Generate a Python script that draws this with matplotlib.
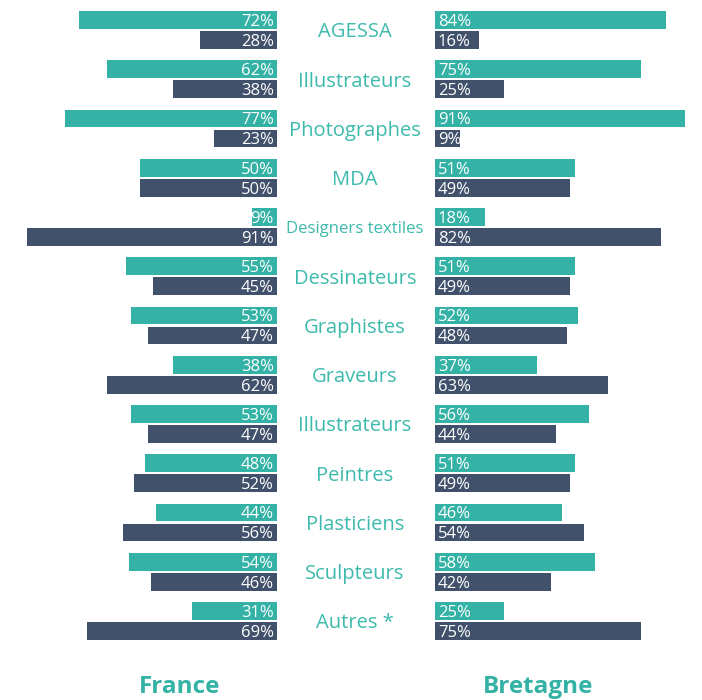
import matplotlib
matplotlib.use("Agg")
import matplotlib.pyplot as plt
from matplotlib.transforms import blended_transform_factory

categories = ["AGESSA", "Illustrateurs", "Photographes", "MDA", "Designers textiles",
              "Dessinateurs", "Graphistes", "Graveurs", "Illustrateurs", "Peintres",
              "Plasticiens", "Sculpteurs", "Autres *"]
france_top = [72, 62, 77, 50, 9, 55, 53, 38, 53, 48, 44, 54, 31]
france_bottom = [28, 38, 23, 50, 91, 45, 47, 62, 47, 52, 56, 46, 69]
bretagne_top = [84, 75, 91, 51, 18, 51, 52, 37, 56, 51, 46, 58, 25]
bretagne_bottom = [16, 25, 9, 49, 82, 49, 48, 63, 44, 49, 54, 42, 75]
panel_titles = ["France", "Bretagne"]

TEAL = "#33b2a5"
DARK = "#41516b"
TXT = "#3dbaac"
plt.rcParams['font.family'] = ['Open Sans', 'DejaVu Sans']

W, H = 702, 700
fig = plt.figure(figsize=(W / 100, H / 100), dpi=100)

px_per_pct = 2.75
row_h = 49.25
first_center = 30.0
ax_top_px, ax_bot_px = 0, 660
ylim_top = -first_center / row_h
ylim_bot = (ax_bot_px - first_center) / row_h

left_right_px = 277
left_left_px = left_right_px - 100 * px_per_pct
right_left_px = 435
right_right_px = W


def fx(px):
    return px / W


def fy(px):
    return 1 - px / H


axL = fig.add_axes([fx(left_left_px), fy(ax_bot_px), fx(left_right_px - left_left_px),
                    (ax_bot_px - ax_top_px) / H])
axR = fig.add_axes([fx(right_left_px), fy(ax_bot_px), fx(right_right_px - right_left_px),
                    (ax_bot_px - ax_top_px) / H])
axL.set_xlim(100, 0)
axR.set_xlim(0, (right_right_px - right_left_px) / px_per_pct)
for ax in (axL, axR):
    ax.set_ylim(ylim_bot, ylim_top)
    ax.axis("off")

bh = 17.8 / row_h
off = 10.0 / row_h
ys = list(range(len(categories)))
yt = [y - off for y in ys]
yb = [y + off for y in ys]

axL.barh(yt, france_top, height=bh, color=TEAL, left=0)
axL.barh(yb, france_bottom, height=bh, color=DARK, left=0)
axR.barh(yt, bretagne_top, height=bh, color=TEAL)
axR.barh(yb, bretagne_bottom, height=bh, color=DARK)

pad = 1.1
lab_fs = 12
for y, v in zip(yt, france_top):
    axL.text(pad, y, f"{v}%", ha="right", va="center_baseline", color="white", fontsize=lab_fs)
for y, v in zip(yb, france_bottom):
    axL.text(pad, y, f"{v}%", ha="right", va="center_baseline", color="white", fontsize=lab_fs)
for y, v in zip(yt, bretagne_top):
    axR.text(pad, y, f"{v}%", ha="left", va="center_baseline", color="white", fontsize=lab_fs)
for y, v in zip(yb, bretagne_bottom):
    axR.text(pad, y, f"{v}%", ha="left", va="center_baseline", color="white", fontsize=lab_fs)

# category labels, shrunk to fit the gap between the two panels
tr = blended_transform_factory(fig.transFigure, axL.transData)
renderer = fig.canvas.get_renderer()
max_w = 138
for y, c in zip(ys, categories):
    t = fig.text(fx(355), y, c, transform=tr, ha="center", va="center_baseline", color=TXT,
                 fontsize=14.5)
    w = t.get_window_extent(renderer).width
    if w > max_w:
        t.set_fontsize(14.5 * max_w / w)

fig.text(fx(180), fy(687), panel_titles[0], ha="center", va="center", color=TEAL,
         fontsize=17.5, fontweight="bold")
fig.text(fx(538), fy(687), panel_titles[1], ha="center", va="center", color=TEAL,
         fontsize=17.5, fontweight="bold")

fig.savefig("out.png", dpi=100)
